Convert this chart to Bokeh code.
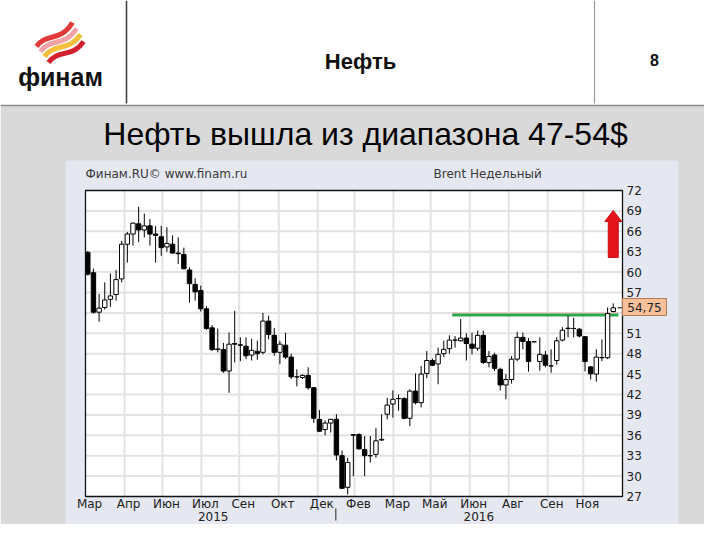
from bokeh.plotting import figure
from bokeh.models import Range1d
from bokeh.core.properties import value
from bokeh.embed import file_html
from bokeh.resources import INLINE

# ---------------- data (weekly Brent candles) ----------------
OPEN = [62.9, 59.9, 54.1, 54.8, 56.0, 56.7, 59.0, 64.1, 65.6, 67.1,
        66.2, 66.8, 65.6, 65.2, 63.7, 64.1, 62.8, 62.6, 60.3, 58.2,
        57.3, 54.6, 51.8, 48.7, 48.6, 45.45, 49.5, 49.3, 49.1, 47.8,
        48.35, 48.2, 52.8, 50.7, 48.2, 49.25, 47.5, 44.6, 44.5, 44.8,
        43.0, 38.35, 36.85, 37.8, 38.35, 33.0, 28.35, 36.0, 36.1, 33.9,
        33.0, 33.2, 35.3, 39.1, 40.6, 41.4, 41.4, 38.5, 42.5, 40.8,
        45.1, 47.0, 46.5, 48.0, 48.75, 50.0, 49.9, 50.3, 49.4, 48.8,
        50.7, 46.7, 47.8, 45.7, 43.4, 44.2, 47.2, 50.4, 49.8, 49.75,
        46.85, 47.8, 46.2, 47.0, 50.0, 51.7, 51.7, 51.6, 50.5, 46.05,
        45.0, 47.4, 47.4, 54.2]
CLOSE = [59.7, 54.1, 54.7, 55.9, 56.5, 58.9, 64.1, 65.6, 67.2, 66.2,
         66.8, 65.6, 65.4, 63.6, 64.2, 62.8, 62.7, 60.5, 58.3, 57.1,
         54.6, 51.7, 48.6, 48.6, 45.45, 49.4, 49.4, 49.25, 47.7, 48.5,
         48.0, 52.8, 50.85, 48.2, 49.4, 47.5, 44.6, 44.6, 44.8, 43.0,
         38.5, 36.6, 37.8, 38.35, 33.1, 28.2, 32.0, 36.1, 34.0, 33.0,
         33.0, 35.2, 35.4, 40.45, 41.3, 41.4, 38.5, 42.5, 40.8, 45.0,
         47.0, 46.3, 47.9, 48.65, 50.0, 50.0, 50.3, 49.5, 48.8, 50.7,
         46.7, 47.6, 45.85, 43.4, 44.2, 47.2, 50.4, 49.8, 46.85, 49.75,
         47.9, 46.3, 46.2, 49.9, 51.45, 51.75, 51.7, 50.6, 46.85, 45.05,
         47.5, 47.45, 53.9, 54.75]
HIGH = [63.1, 60.5, 56.8, 58.5, 59.8, 60.3, 64.6, 65.9, 67.3, 69.6,
        68.6, 67.8, 66.8, 66.8, 66.6, 65.4, 65.1, 63.6, 60.7, 59.1,
        58.0, 55.0, 52.2, 51.7, 49.6, 51.1, 54.3, 50.4, 50.4, 50.2,
        49.9, 54.0, 53.6, 51.8, 49.9, 51.1, 48.0, 45.7, 45.0, 46.0,
        43.0, 39.7, 38.2, 38.4, 39.1, 33.75, 32.7, 36.2, 36.3, 35.9,
        35.9, 37.1, 39.1, 41.5, 42.6, 42.0, 41.6, 42.75, 45.1, 46.2,
        48.4, 47.3, 48.9, 49.9, 50.7, 50.6, 53.1, 51.0, 51.1, 51.4,
        51.4, 48.4, 48.15, 45.95, 45.0, 47.65, 51.2, 51.1, 50.3, 49.8,
        50.4, 48.4, 48.65, 50.4, 51.9, 53.6, 53.3, 51.8, 50.6, 46.2,
        48.65, 50.1, 54.8, 55.4]
LOW = [59.5, 53.9, 52.7, 54.5, 54.9, 55.8, 58.5, 61.4, 63.9, 64.4,
       65.1, 63.9, 61.4, 62.4, 63.0, 62.7, 61.2, 60.4, 55.5, 55.8,
       54.2, 51.5, 48.4, 48.2, 45.2, 42.25, 46.7, 46.9, 47.2, 47.0,
       47.1, 47.9, 50.1, 47.7, 46.45, 47.2, 44.3, 43.2, 44.3, 42.7,
       37.8, 36.5, 36.0, 36.4, 32.3, 28.2, 27.3, 30.0, 33.9, 30.0,
       32.0, 32.7, 35.2, 38.35, 38.6, 39.6, 38.35, 37.35, 40.55, 40.1,
       44.4, 46.2, 43.5, 47.5, 48.0, 48.9, 49.8, 47.0, 47.9, 48.4,
       46.5, 46.0, 45.45, 42.6, 41.3, 43.6, 46.9, 48.65, 45.35, 49.7,
       45.5, 46.0, 45.2, 46.4, 49.8, 50.4, 50.4, 50.4, 45.4, 44.2,
       43.9, 46.9, 47.2, 54.1]
WEEK = list(range(len(OPEN)))

X_TICK_WEEKS = [-0.4, 6.5, 13.2, 20.1, 26.8, 33.8, 40.7, 47.2, 54.1, 60.7, 67.6, 74.5, 81.4, 87.7]
X_TICK_LABELS = ["Мар", "Апр", "Июн", "Июл", "Сен", "Окт", "Дек", "Фев",
                 "Мар", "Май", "Июн", "Авг", "Сен", "Ноя"]
YEAR_LABELS = ["2015", "2016"]
YEAR_WEEKS = [22.2, 69.2]
YEAR_BREAK_WEEK = 43.9
Y_TICK_VALUES = [72, 69, 66, 63, 60, 57, 51, 48, 45, 42, 39, 36, 33, 30, 27]
Y_GRID_VALUES = [30, 33, 36, 39, 42, 45, 48, 51, 54, 57, 60, 63, 66, 69]
Y_MIN, Y_MAX = 27, 72

LEVEL_PRICE = 53.7
LEVEL_START_WEEK = 64.5
LAST_PRICE = 54.75
LAST_LABEL = "54,75"
ARROW_WEEK = 93.0
ARROW_FROM = 62.15
ARROW_TO = 69.06

# ---------------- layout (reference pixels) ----------------
OFF = 0
W, H = 704, 524
WX0, WDX = 87.3, 5.65      # pixel of week 0, pixels per week
PY_TOP, PPX = 190.0, 6.8   # pixel of price Y_MAX, pixels per price unit
PLOT_L, PLOT_R = 85, 622


def wk(px):
    return (px - WX0) / WDX


def pr(py):
    return Y_MAX - (py - PY_TOP) / PPX


p = figure(width=W, height=H, output_backend="svg", toolbar_location=None, tools="",
           x_range=Range1d(OFF, OFF + W), y_range=Range1d(OFF + H, OFF),
           x_axis_type=None, y_axis_type=None, min_border=0,
           outline_line_color=None, background_fill_color="white",
           border_fill_color="white")
p.min_border_left = p.min_border_right = p.min_border_top = p.min_border_bottom = 0
p.extra_x_ranges = {"wk": Range1d(wk(OFF), wk(OFF + W))}
p.extra_y_ranges = {"pr": Range1d(pr(OFF + H), pr(OFF))}
C = dict(x_range_name="wk", y_range_name="pr")

# ---------------- slide decoration ----------------
p.quad(left=0, right=720, top=105, bottom=540, fill_color="#d9d9d9", line_color=None)
p.segment(x0=0, y0=105, x1=720, y1=105, line_color="#8c8c8c", line_width=1.5)
p.segment(x0=[126, 594], y0=[0, 0], x1=[126, 594], y1=[103, 103],
          line_color=["#3a3a3a", "#9a9a9a"], line_width=[1.5, 1.2])

# logo ribbons
p.bezier(x0=[36, 40, 44, 48], y0=[46, 51, 56, 62],
         x1=[72, 76, 80, 83], y1=[22, 28, 34, 41],
         cx0=[46, 50, 54, 58], cy0=[32, 37, 42, 48],
         cx1=[60, 64, 68, 72], cy1=[42, 47, 52, 58],
         line_color=["#e2393a", "#f2a2a6", "#f4c03c", "#d4202a"], line_width=5)
p.text(x=[60], y=[76], text=["финам"], text_font=value("Liberation Sans"),
       text_font_style="bold", text_font_size=value("25px"), text_color="#111111",
       text_align="center", text_baseline="middle")
p.text(x=[360], y=[61], text=["Нефть"], text_font=value("Liberation Sans"),
       text_font_style="bold", text_font_size=value("22px"), text_color="#111111",
       text_align="center", text_baseline="middle")
p.text(x=[654], y=[59], text=["8"], text_font=value("Liberation Sans"),
       text_font_style="bold", text_font_size=value("16px"), text_color="#111111",
       text_align="center", text_baseline="middle")
p.text(x=[365], y=[133], text=["Нефть вышла из диапазона 47-54$"],
       text_font=value("Liberation Sans"), text_font_size=value("32px"),
       text_color="#000000", text_align="center", text_baseline="middle")

# chart panel
p.quad(left=65, right=678, top=160, bottom=537, fill_color="#e5e8f1", line_color=None)
p.text(x=[85, 433], y=[173, 173], text=["Финам.RU©  www.finam.ru", "Brent Недельный"],
       text_font=value("DejaVu Sans"), text_font_size=value("12px"), text_color="#3a3a3a",
       text_align="left", text_baseline="middle")

# ---------------- chart ----------------
pl, prr = wk(PLOT_L), wk(PLOT_R)
p.quad(left=pl, right=prr, top=Y_MAX, bottom=Y_MIN, fill_color="white", line_color=None, **C)
grid_x = X_TICK_WEEKS[1:]
p.segment(x0=grid_x, y0=[Y_MIN] * len(grid_x), x1=grid_x, y1=[Y_MAX] * len(grid_x),
          line_color="#e3e3e3", line_width=2, **C)
p.segment(x0=[pl] * len(Y_GRID_VALUES), y0=Y_GRID_VALUES, x1=[prr] * len(Y_GRID_VALUES),
          y1=Y_GRID_VALUES, line_color="#e3e3e3", line_width=2, **C)

# level lines
p.segment(x0=[LEVEL_START_WEEK], y0=[LEVEL_PRICE + 0.3], x1=[wk(618)], y1=[LEVEL_PRICE + 0.3],
          line_color="#f4b8b8", line_width=1, **C)
p.segment(x0=[LEVEL_START_WEEK], y0=[LEVEL_PRICE], x1=[wk(618)], y1=[LEVEL_PRICE],
          line_color="#2ea84e", line_width=3, **C)

# candles
p.segment(x0=WEEK, y0=LOW, x1=WEEK, y1=HIGH, line_color="black", line_width=1, **C)
tops = [max(o, c) for o, c in zip(OPEN, CLOSE)]
bots = [min(o, c) for o, c in zip(OPEN, CLOSE)]
fills = ["black" if c < o else "white" for o, c in zip(OPEN, CLOSE)]
p.vbar(x=WEEK, width=0.78, top=tops, bottom=bots, fill_color=fills,
       line_color="black", line_width=1, **C)

# frame
p.quad(left=pl, right=prr, top=Y_MAX, bottom=Y_MIN, fill_color=None,
       line_color="#111111", line_width=1.3, **C)

# arrow
hw, hh, hl = 5 / WDX, 8.5 / WDX, 11 / PPX
ax = [ARROW_WEEK - hw, ARROW_WEEK + hw, ARROW_WEEK + hw, ARROW_WEEK + hh, ARROW_WEEK,
      ARROW_WEEK - hh, ARROW_WEEK - hw]
ay = [ARROW_FROM, ARROW_FROM, ARROW_TO - hl, ARROW_TO - hl, ARROW_TO, ARROW_TO - hl, ARROW_TO - hl]
p.patch(x=ax, y=ay, fill_color="#e4141b", line_color="#c80f14", line_width=1, **C)

# last price marker
p.segment(x0=[wk(617)], y0=[LAST_PRICE], x1=[wk(623)], y1=[LAST_PRICE],
          line_color="#333333", line_width=1.2, **C)
p.quad(left=wk(622), right=wk(666), top=pr(298), bottom=pr(315),
       fill_color="#f8c09a", line_color="#b87a55", line_width=1, **C)
p.text(x=[wk(644)], y=[LAST_PRICE], text=[LAST_LABEL], text_font=value("DejaVu Sans"),
       text_font_size=value("12px"), text_color="#222222", text_align="center",
       text_baseline="middle", **C)

# y tick labels (right)
p.text(x=[wk(626)] * len(Y_TICK_VALUES), y=Y_TICK_VALUES, text=[str(v) for v in Y_TICK_VALUES],
       text_font=value("DejaVu Sans"), text_font_size=value("12px"), text_color="#222222",
       text_align="left", text_baseline="middle", **C)

# x tick labels
p.text(x=X_TICK_WEEKS, y=[pr(503)] * len(X_TICK_WEEKS), text=X_TICK_LABELS, x_offset=4,
       text_font=value("DejaVu Sans"), text_font_size=value("12px"), text_color="#222222",
       text_align="center", text_baseline="middle", **C)
p.text(x=YEAR_WEEKS, y=[pr(516)] * len(YEAR_WEEKS), text=YEAR_LABELS,
       text_font=value("DejaVu Sans"), text_font_size=value("12px"), text_color="#222222",
       text_align="center", text_baseline="middle", **C)
p.segment(x0=[YEAR_BREAK_WEEK], y0=[pr(508)], x1=[YEAR_BREAK_WEEK], y1=[pr(520)],
          line_color="#222222", line_width=1, **C)

open("out.html", "w").write(file_html(p, INLINE))
